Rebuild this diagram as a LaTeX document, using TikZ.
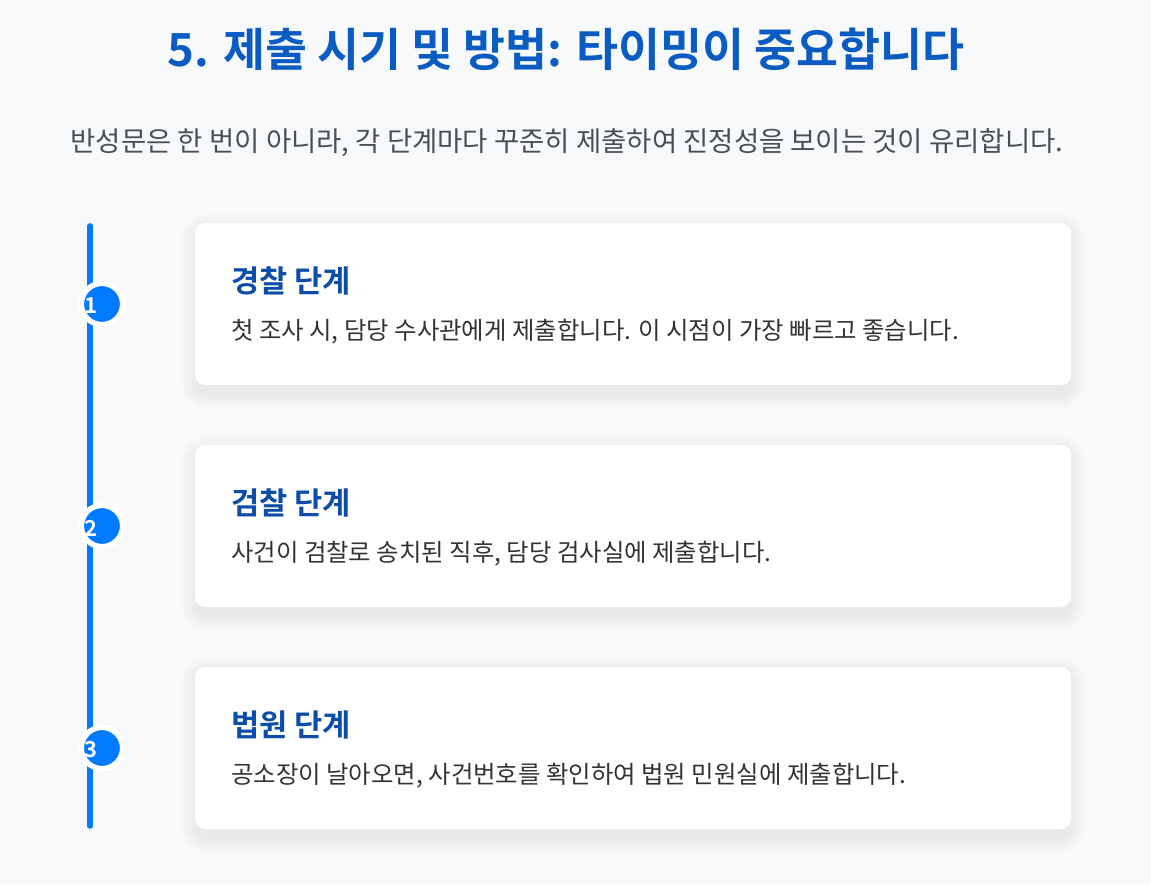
\documentclass[tikz,border=0pt]{standalone}
\usepackage{fontspec}
\setmainfont{Noto Sans CJK KR}[BoldFont={Noto Sans CJK KR Bold}]
\usetikzlibrary{calc}
\definecolor{bg}{HTML}{F8F9FB}
\definecolor{titleblue}{HTML}{0A5CC2}
\definecolor{headblue}{HTML}{0B4DA8}
\definecolor{linkblue}{HTML}{007BFF}
\definecolor{subgray}{HTML}{4A4F55}
\definecolor{bodygray}{HTML}{333333}
\tikzset{
  card/.style={fill=white, rounded corners=7.5pt, minimum width=657pt, minimum height=121.5pt, inner sep=0pt},
  stepdot/.style={circle, fill=linkblue, draw=white, line width=4.1pt, minimum size=31pt, inner sep=0pt},
  stepnum/.style={text=white, font=\bfseries\fontsize{16.5}{19}\selectfont, inner sep=0pt},
  heading/.style={anchor=west, inner sep=0pt, text=headblue, font=\bfseries\fontsize{23}{27}\selectfont},
  bodytext/.style={anchor=west, inner sep=0pt, text=bodygray, font=\fontsize{18.3}{22}\selectfont},
  timeline/.style={draw=linkblue, line width=4.2pt, line cap=round}
}
\newcommand{\cardshadow}[1]{%
  \foreach \k in {1,...,16}{
    \fill[black, opacity=0.004, rounded corners={(7.5+0.75*\k)*1pt}]
      ($(#1.south west)+(-\k+2,\k+8)$) rectangle ($(#1.north east)+(\k-2,-\k+6)$);
  }}
\begin{document}
\begin{tikzpicture}[x=0.75pt, y=-0.75pt]
\fill[bg] (0,0) rectangle (1151,884);
\useasboundingbox (0,0) rectangle (1151,884);
\node[inner sep=0pt, text=titleblue, font=\bfseries\fontsize{34.2}{38}\selectfont] (title) at (566,49) {5. 제출 시기 및 방법: 타이밍이 중요합니다};
\node[inner sep=0pt, text=subgray, font=\fontsize{20.6}{24}\selectfont] (sub) at (567,143) {반성문은 한 번이 아니라, 각 단계마다 꾸준히 제출하여 진정성을 보이는 것이 유리합니다.};
\coordinate (ltop) at (90,226);
\coordinate (lbot) at (90,826);
\draw[timeline] (ltop) -- (lbot);
\path (633,304) coordinate (p1) (633,526) coordinate (p2) (633,748) coordinate (p3);
\foreach \i in {1,2,3}{
  \path (p\i) node[card, fill=none] (s\i) {};
  \cardshadow{s\i}
}
\node[card] (c1) at (p1) {};
\node[card] (c2) at (p2) {};
\node[card] (c3) at (p3) {};
\node[stepdot] (d1) at (102,304) {};
\node[stepdot] (d2) at (102,526) {};
\node[stepdot] (d3) at (102,748) {};
\node[stepnum] (n1) at (91,306) {1};
\node[stepnum] (n2) at (91,528) {2};
\node[stepnum] (n3) at (91,750) {3};
\node[heading] (h1) at (231,281) {경찰 단계};
\node[bodytext] (b1) at (231,332) {첫 조사 시, 담당 수사관에게 제출합니다. 이 시점이 가장 빠르고 좋습니다.};
\node[heading] (h2) at (231,503) {검찰 단계};
\node[bodytext] (b2) at (231,554) {사건이 검찰로 송치된 직후, 담당 검사실에 제출합니다.};
\node[heading] (h3) at (231,725) {법원 단계};
\node[bodytext] (b3) at (231,776) {공소장이 날아오면, 사건번호를 확인하여 법원 민원실에 제출합니다.};
\end{tikzpicture}
\end{document}
